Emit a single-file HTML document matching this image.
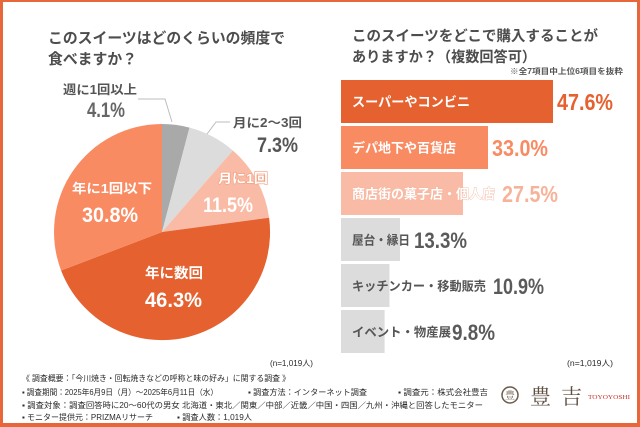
<!DOCTYPE html>
<html><head><meta charset="utf-8"><style>
html,body{margin:0;padding:0;background:#fff;}
svg{display:block;}
.jp{font-family:"Liberation Sans","Noto Sans CJK JP",sans-serif;font-weight:bold;}
.num{font-family:"Liberation Sans","Noto Sans CJK JP",sans-serif;font-weight:bold;}
.ft{font-family:"Liberation Sans","Noto Sans CJK JP",sans-serif;font-size:8px;fill:#2a2a2a;}
</style></head><body>
<svg width="640" height="427" viewBox="0 0 640 427" xmlns="http://www.w3.org/2000/svg">
<rect x="0" y="0" width="640" height="427" fill="#fff"/>
<!-- border -->
<rect x="0" y="0" width="640" height="2" fill="#e8673a"/>
<rect x="0" y="0" width="3" height="427" fill="#e8673a"/>
<rect x="637" y="0" width="3" height="427" fill="#e8673a"/>
<rect x="0" y="423" width="640" height="4" fill="#e8673a"/>

<!-- left title -->
<text class="jp" x="48" y="43" font-size="15" fill="#4d4d4d" textLength="237" lengthAdjust="spacingAndGlyphs">このスイーツはどのくらいの頻度で</text>
<text class="jp" x="48" y="64" font-size="15" fill="#4d4d4d" textLength="89" lengthAdjust="spacingAndGlyphs">食べますか？</text>

<!-- pie -->
<path d="M162 232 L162 124 A108 108 0 0 1 189.5 127.6 Z" fill="#a9a9a9"/>
<path d="M162 232 L189.5 127.6 A108 108 0 0 1 232.9 150.5 Z" fill="#dcdcdc"/>
<path d="M162 232 L232.9 150.5 A108 108 0 0 1 269.1 217.8 Z" fill="#f9bba5"/>
<path d="M162 232 L269.1 217.8 A108 108 0 0 1 61.1 270.5 Z" fill="#e5612f"/>
<path d="M162 232 L61.1 270.5 A108 108 0 0 1 162 124 Z" fill="#f98b63"/>

<!-- leader lines -->
<polyline points="138,99 165,99 172,122" fill="none" stroke="#bdbdbd" stroke-width="1"/>
<polyline points="230,122 216,122 207,134" fill="none" stroke="#bdbdbd" stroke-width="1"/>

<!-- pie labels -->
<text class="jp" x="63" y="94" font-size="12.5" fill="#555" textLength="74" lengthAdjust="spacingAndGlyphs">週に1回以上</text>
<text class="num" x="87" y="117" font-size="21" fill="#666" textLength="38" lengthAdjust="spacingAndGlyphs">4.1%</text>
<text class="jp" x="233" y="127" font-size="12.5" fill="#555" textLength="69" lengthAdjust="spacingAndGlyphs">月に2～3回</text>
<text class="num" x="257" y="152" font-size="21" fill="#555" textLength="41" lengthAdjust="spacingAndGlyphs">7.3%</text>
<text class="jp" x="218" y="183" font-size="13" fill="#fff" stroke="#f29d7e" stroke-width="1.2" paint-order="stroke" textLength="50" lengthAdjust="spacingAndGlyphs">月に1回</text>
<text class="num" x="203" y="212" font-size="21" fill="#fff" textLength="50" lengthAdjust="spacingAndGlyphs">11.5%</text>
<text class="jp" x="72" y="193" font-size="13" fill="#fff" textLength="80" lengthAdjust="spacingAndGlyphs">年に1回以下</text>
<text class="num" x="82" y="222" font-size="21" fill="#fff" textLength="56" lengthAdjust="spacingAndGlyphs">30.8%</text>
<text class="jp" x="145" y="278" font-size="14" fill="#fff" textLength="58" lengthAdjust="spacingAndGlyphs">年に数回</text>
<text class="num" x="145" y="307" font-size="21" fill="#fff" textLength="57" lengthAdjust="spacingAndGlyphs">46.3%</text>

<text class="ft" x="270" y="366" font-size="9" textLength="43" lengthAdjust="spacingAndGlyphs">(n=1,019人)</text>

<!-- right title -->
<text class="jp" x="352" y="41" font-size="14.5" fill="#4d4d4d" textLength="246" lengthAdjust="spacingAndGlyphs">このスイーツをどこで購入することが</text>
<text class="jp" x="352" y="62" font-size="14.5" fill="#4d4d4d" textLength="184" lengthAdjust="spacingAndGlyphs">ありますか？（複数回答可）</text>
<text class="jp" x="510" y="74" font-size="8" fill="#555" textLength="113" lengthAdjust="spacingAndGlyphs">※全7項目中上位6項目を抜粋</text>

<!-- bars -->
<rect x="341" y="80" width="212" height="43" fill="#e5612f"/>
<rect x="341" y="126" width="147" height="43" fill="#f98b63"/>
<rect x="341" y="172" width="122" height="43" fill="#f9bba5"/>
<rect x="341" y="218" width="59" height="43" fill="#dcdcdc"/>
<rect x="341" y="264" width="48.5" height="43" fill="#dcdcdc"/>
<rect x="341" y="310" width="43.6" height="43" fill="#dcdcdc"/>

<text class="jp" x="352" y="106.5" font-size="13" fill="#fff" textLength="118" lengthAdjust="spacingAndGlyphs">スーパーやコンビニ</text>
<text class="jp" x="352" y="152.5" font-size="13" fill="#fff" textLength="104" lengthAdjust="spacingAndGlyphs">デパ地下や百貨店</text>
<text class="jp" x="352" y="198.5" font-size="13" fill="#fff" stroke="#f4b39b" stroke-width="0.8" paint-order="stroke" textLength="143" lengthAdjust="spacingAndGlyphs">商店街の菓子店・個人店</text>
<text class="jp" x="352" y="244.5" font-size="12.5" fill="#555" textLength="58" lengthAdjust="spacingAndGlyphs">屋台・縁日</text>
<text class="jp" x="352" y="290.5" font-size="12.5" fill="#555" textLength="134" lengthAdjust="spacingAndGlyphs">キッチンカー・移動販売</text>
<text class="jp" x="352" y="336.5" font-size="12.5" fill="#555" textLength="99" lengthAdjust="spacingAndGlyphs">イベント・物産展</text>

<text class="num" x="557" y="110" font-size="23" fill="#e5612f" textLength="56" lengthAdjust="spacingAndGlyphs">47.6%</text>
<text class="num" x="492" y="156" font-size="23" fill="#f98b63" textLength="56" lengthAdjust="spacingAndGlyphs">33.0%</text>
<text class="num" x="502" y="202" font-size="23" fill="#f7b39a" textLength="56" lengthAdjust="spacingAndGlyphs">27.5%</text>
<text class="num" x="414" y="248" font-size="22" fill="#5a5a5a" textLength="53" lengthAdjust="spacingAndGlyphs">13.3%</text>
<text class="num" x="493" y="294" font-size="22" fill="#5a5a5a" textLength="51" lengthAdjust="spacingAndGlyphs">10.9%</text>
<text class="num" x="452" y="340" font-size="22" fill="#5a5a5a" textLength="43" lengthAdjust="spacingAndGlyphs">9.8%</text>

<text class="ft" x="567" y="366" font-size="9" textLength="46" lengthAdjust="spacingAndGlyphs">(n=1,019人)</text>

<!-- footer -->
<text class="ft" x="22" y="381" textLength="268" lengthAdjust="spacingAndGlyphs">《 調査概要：「今川焼き・回転焼きなどの呼称と味の好み」に関する調査 》</text>
<text class="ft" x="22" y="395" textLength="196" lengthAdjust="spacingAndGlyphs">▪ 調査期間：2025年6月9日（月）～2025年6月11日（水）</text>
<text class="ft" x="248" y="395" textLength="119" lengthAdjust="spacingAndGlyphs">▪ 調査方法：インターネット調査</text>
<text class="ft" x="398" y="395" textLength="90" lengthAdjust="spacingAndGlyphs">▪ 調査元：株式会社豊吉</text>
<text class="ft" x="22" y="408" textLength="461" lengthAdjust="spacingAndGlyphs">▪ 調査対象：調査回答時に20～60代の男女 北海道・東北／関東／中部／近畿／中国・四国／九州・沖縄と回答したモニター</text>
<text class="ft" x="22" y="420" textLength="131" lengthAdjust="spacingAndGlyphs">▪ モニター提供元：PRIZMAリサーチ</text>
<text class="ft" x="177" y="420" textLength="75" lengthAdjust="spacingAndGlyphs">▪ 調査人数：1,019人</text>

<!-- logo -->
<circle cx="510" cy="395" r="8" fill="none" stroke="#6b5a4a" stroke-width="1.5"/>
<text x="510" y="399" font-size="10" text-anchor="middle" fill="#6b5a4a" font-family="'Noto Serif CJK SC',serif">豊</text>
<text x="530" y="404" font-size="21" fill="#5e4e40" font-family="'Liberation Serif','Noto Serif CJK SC',serif" textLength="52" lengthAdjust="spacing">豊 吉</text>
<text x="588" y="399" font-size="6" fill="#c8302a" font-family="'Liberation Serif',serif" textLength="42" lengthAdjust="spacingAndGlyphs">TOYOYOSHI</text>
</svg>
</body></html>
